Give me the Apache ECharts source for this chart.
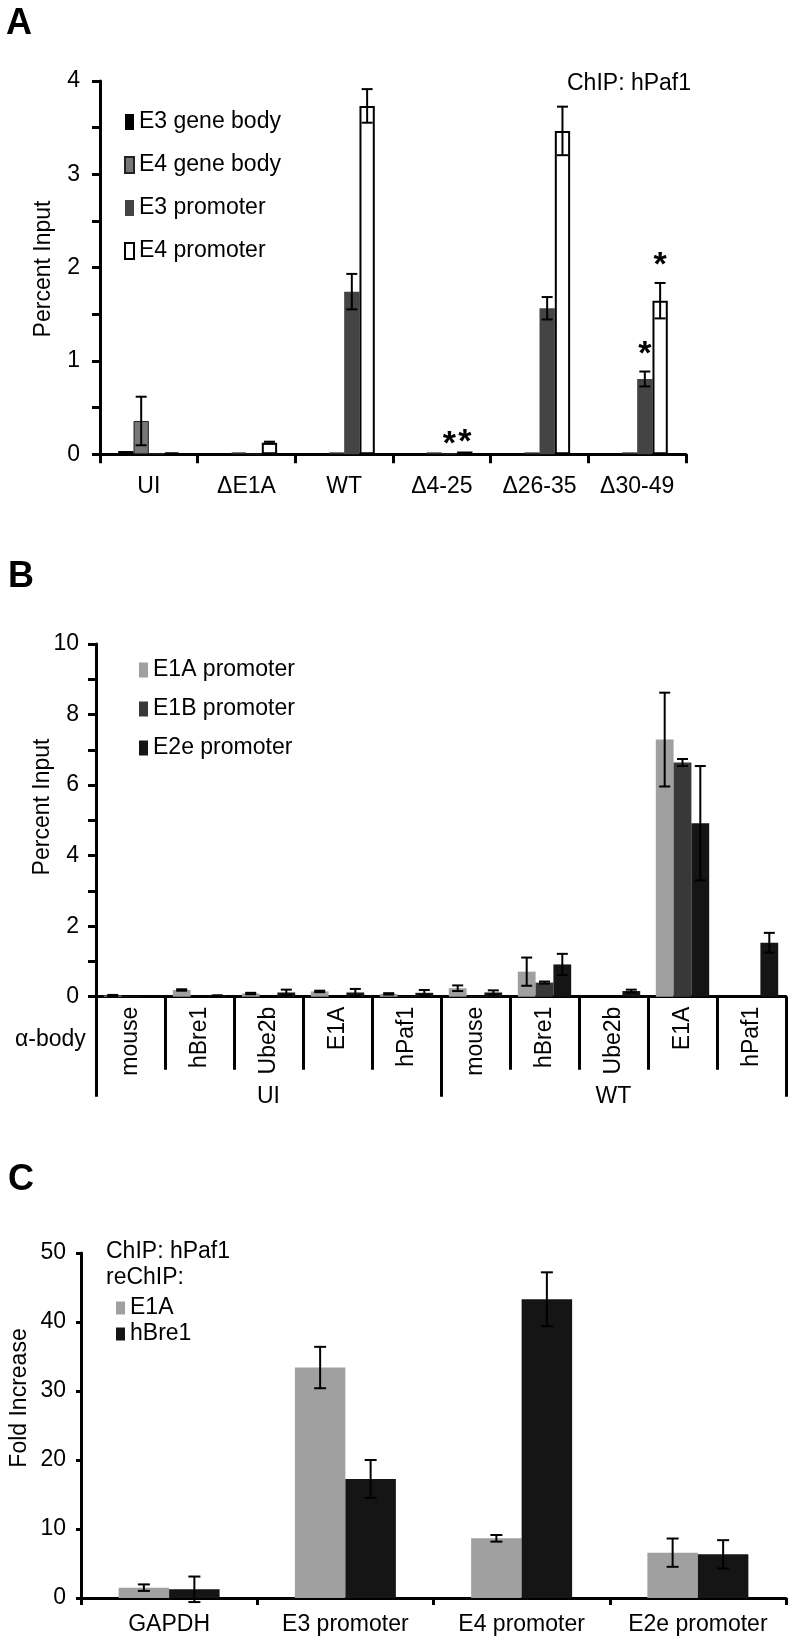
<!DOCTYPE html>
<html><head><meta charset="utf-8">
<script src="https://cdn.jsdelivr.net/npm/echarts@6/dist/echarts.min.js"></script>
<style>html,body{margin:0;padding:0;background:#fff}#c{width:794px;height:1644px}</style>
</head><body><div id="c"></div>
<script>
// ---------- Panel A data ----------
const aCategories = ['UI', 'ΔE1A', 'WT', 'Δ4-25', 'Δ26-35', 'Δ30-49'];
const aSeriesNames = ['E3 gene body', 'E4 gene body', 'E3 promoter', 'E4 promoter'];
const aE3GeneBody = [0.035, 0.01, 0.01, 0.01, 0.01, 0.01];
const aE3GeneBodyErr = [0, 0, 0, 0, 0, 0];
const aE4GeneBody = [0.357, 0.02, 0.02, 0.02, 0.02, 0.02];
const aE4GeneBodyErr = [0.26, 0, 0, 0, 0, 0];
const aE3Promoter = [0.008, 0.006, 1.743, 0.008, 1.565, 0.807];
const aE3PromoterErr = [0, 0, 0.19, 0, 0.12, 0.08];
const aE4Promoter = [0.02, 0.125, 3.733, 0.03, 3.465, 1.646];
const aE4PromoterErr = [0, 0.01, 0.18, 0, 0.26, 0.19];
const aYTicks = [0, 1, 2, 3, 4];
const aSignificance = [[3, 2], [3, 3], [5, 2], [5, 3]]; // [category, series]

// ---------- Panel B data ----------
const bCategories = ['mouse', 'hBre1', 'Ube2b', 'E1A', 'hPaf1', 'mouse', 'hBre1', 'Ube2b', 'E1A', 'hPaf1'];
const bGroups = ['UI', 'WT'];
const bSeriesNames = ['E1A promoter', 'E1B promoter', 'E2e promoter'];
const bE1A = [0.03, 0.19, 0.09, 0.15, 0.08, 0.24, 0.71, 0, 7.29, 0];
const bE1AErr = [0.02, 0.02, 0.02, 0.02, 0.02, 0.08, 0.4, 0, 1.33, 0];
const bE1B = [0.01, 0, 0, 0, 0.01, 0.01, 0.40, 0, 6.64, 0];
const bE1BErr = [0, 0, 0, 0, 0, 0, 0.03, 0, 0.1, 0];
const bE2e = [0, 0.03, 0.12, 0.12, 0.11, 0.12, 0.915, 0.16, 4.92, 1.53];
const bE2eErr = [0, 0.01, 0.08, 0.1, 0.08, 0.06, 0.3, 0.04, 1.62, 0.28];
const bYTicks = [0, 2, 4, 6, 8, 10];

// ---------- Panel C data ----------
const cCategories = ['GAPDH', 'E3 promoter', 'E4 promoter', 'E2e promoter'];
const cSeriesNames = ['E1A', 'hBre1'];
const cE1A = [1.5, 33.4, 8.65, 6.57];
const cE1AErr = [0.47, 3.0, 0.48, 2.05];
const cHBre1 = [1.26, 17.25, 43.3, 6.33];
const cHBre1Err = [1.85, 2.75, 3.9, 2.05];
const cYTicks = [0, 10, 20, 30, 40, 50];

// ---------- helpers ----------
const FONT = "'Liberation Sans', Arial, Helvetica, sans-serif";
const BLACK = '#000';

function errorSeries(xi, yi, vals, errs, gapFrac, cap) {
  const n = vals.length, data = [];
  vals.forEach((arr, s) => arr.forEach((v, c) => {
    if (errs[s][c] > 0) data.push([c, v, errs[s][c], s]);
  }));
  return {
    type: 'custom', xAxisIndex: xi, yAxisIndex: yi, z: 10, silent: true, clip: false,
    data: data, encode: { x: 0, y: 1 },
    renderItem: function (params, api) {
      const c = api.value(0), v = api.value(1), e = api.value(2), s = api.value(3);
      const band = api.size([1, 0])[0];
      const gw = band * (1 - gapFrac), bw = gw / n;
      const x = api.coord([c, v])[0] - gw / 2 + (s + 0.5) * bw;
      const yh = api.coord([c, v + e])[1], yl = api.coord([c, v - e])[1];
      const st = { stroke: BLACK, lineWidth: 2 };
      return { type: 'group', children: [
        { type: 'line', shape: { x1: x, y1: yh, x2: x, y2: yl }, style: st },
        { type: 'line', shape: { x1: x - cap / 2, y1: yh, x2: x + cap / 2, y2: yh }, style: st },
        { type: 'line', shape: { x1: x - cap / 2, y1: yl, x2: x + cap / 2, y2: yl }, style: st }
      ] };
    }
  };
}

function sigSeries(xi, yi, vals, errs, sig, gapFrac) {
  const n = vals.length;
  const data = sig.map(([c, s]) => [c, vals[s][c] + errs[s][c], s, errs[s][c] > 0 ? 1 : 0]);
  return {
    type: 'custom', xAxisIndex: xi, yAxisIndex: yi, z: 11, silent: true, clip: false,
    data: data, encode: { x: 0, y: 1 },
    renderItem: function (params, api) {
      const c = api.value(0), top = api.value(1), s = api.value(2), hasErr = api.value(3);
      const band = api.size([1, 0])[0];
      const gw = band * (1 - gapFrac), bw = gw / n;
      const p = api.coord([c, top]);
      const x = p[0] - gw / 2 + (s + 0.5) * bw;
      const y = p[1] - (hasErr ? 23 : 15) + 6;
      return { type: 'text', x: x, y: y, style: { text: '*', fill: BLACK, font: 'bold 34px ' + FONT,
        textAlign: 'center', textVerticalAlign: 'middle', align: 'center', verticalAlign: 'middle' } };
    }
  };
}

function catAxis(gi, data, tickLen, labelOpt, extra) {
  return Object.assign({
    gridIndex: gi, type: 'category', data: data,
    axisLine: { show: true, onZero: false, lineStyle: { color: BLACK, width: 3 } },
    axisTick: { show: true, interval: 0, length: tickLen, lineStyle: { color: BLACK, width: 3 } },
    axisLabel: Object.assign({ interval: 0, color: BLACK, fontSize: 23, fontFamily: FONT }, labelOpt),
    splitLine: { show: false }
  }, extra || {});
}

function valAxis(gi, max, interval, ticks, tickLen, margin) {
  return {
    gridIndex: gi, type: 'value', min: 0, max: max, interval: interval,
    axisLine: { show: true, lineStyle: { color: BLACK, width: 3 } },
    axisTick: { show: true, length: tickLen, lineStyle: { color: BLACK, width: 3 } },
    axisLabel: { color: BLACK, fontSize: 23, fontFamily: FONT, margin: margin,
      formatter: v => ticks.indexOf(v) >= 0 ? String(v) : '' },
    splitLine: { show: false }
  };
}

function bar(name, xi, yi, data, color, gap, extraStyle) {
  return {
    name: name, type: 'bar', xAxisIndex: xi, yAxisIndex: yi, data: data,
    barGap: '0%', barCategoryGap: gap, silent: true,
    itemStyle: Object.assign({ color: color }, extraStyle || {})
  };
}

function text(x, y, str, size, weight, rot) {
  return { type: 'text', x: x, y: y, rotation: rot || 0,
    style: { text: str, fill: BLACK, font: (weight || 'normal') + ' ' + size + 'px ' + FONT,
      textAlign: rot ? 'center' : 'left', textVerticalAlign: 'middle',
      align: rot ? 'center' : 'left', verticalAlign: 'middle' } };
}

const A_GAP = 0.373, B_GAP = 0.226, C_GAP = 0.427;
const pct = f => (f * 100).toFixed(1) + '%';

const legendBase = {
  orient: 'vertical', padding: 0, icon: 'rect', itemWidth: 9, selectedMode: false,
  textStyle: { color: BLACK, fontSize: 23, lineHeight: 24, fontFamily: FONT }
};

const option = {
  animation: false,
  backgroundColor: '#fff',
  textStyle: { fontFamily: FONT },
  grid: [
    { left: 100, top: 81, width: 586, height: 373.3, containLabel: false, outerBoundsMode: 'none' },
    { left: 96, top: 644, width: 690, height: 352.7, containLabel: false, outerBoundsMode: 'none' },
    { left: 81, top: 1253, width: 705, height: 345, containLabel: false, outerBoundsMode: 'none' }
  ],
  xAxis: [
    catAxis(0, aCategories, 9, { margin: 21 }),
    catAxis(1, bCategories, 73, { rotate: 90, margin: 10 }),
    catAxis(1, bGroups, 100, { margin: 88 }, { position: 'bottom', axisLine: { show: false } }),
    catAxis(2, cCategories, 7, { margin: 15 })
  ],
  yAxis: [
    valAxis(0, 4, 0.5, aYTicks, 8, 20),
    valAxis(1, 10, 1, bYTicks, 8, 17),
    valAxis(2, 50, 10, cYTicks, 5, 15)
  ],
  legend: [
    Object.assign({}, legendBase, { data: aSeriesNames, left: 124, top: 110, itemHeight: 16, itemGap: 19 }),
    Object.assign({}, legendBase, { data: bSeriesNames, left: 139, top: 658, itemHeight: 15, itemGap: 15 }),
    Object.assign({}, legendBase, { data: cSeriesNames, left: 116, top: 1296, itemHeight: 13, itemGap: 2 })
  ],
  graphic: [
    text(6, 24, 'A', 36, 'bold'),
    text(8, 577, 'B', 36, 'bold'),
    text(8, 1180, 'C', 36, 'bold'),
    text(567, 84, 'ChIP: hPaf1', 23),
    text(44, 269, 'Percent Input', 23, 'normal', Math.PI / 2),
    text(43, 807, 'Percent Input', 23, 'normal', Math.PI / 2),
    text(15, 1040, 'α-body', 23),
    text(20, 1398, 'Fold Increase', 23, 'normal', Math.PI / 2),
    text(106, 1252, 'ChIP: hPaf1', 23),
    text(106, 1278, 'reChIP:', 23)
  ],
  series: [
    bar(aSeriesNames[0], 0, 0, aE3GeneBody, '#000000', pct(A_GAP)),
    bar(aSeriesNames[1], 0, 0, aE4GeneBody, '#777777', pct(A_GAP), { borderColor: '#222', borderWidth: 1 }),
    bar(aSeriesNames[2], 0, 0, aE3Promoter, '#444444', pct(A_GAP)),
    bar(aSeriesNames[3], 0, 0, aE4Promoter, '#ffffff', pct(A_GAP), { borderColor: '#000', borderWidth: 2 }),
    errorSeries(0, 0, [aE3GeneBody, aE4GeneBody, aE3Promoter, aE4Promoter],
      [aE3GeneBodyErr, aE4GeneBodyErr, aE3PromoterErr, aE4PromoterErr], A_GAP, 11),
    sigSeries(0, 0, [aE3GeneBody, aE4GeneBody, aE3Promoter, aE4Promoter],
      [aE3GeneBodyErr, aE4GeneBodyErr, aE3PromoterErr, aE4PromoterErr], aSignificance, A_GAP),

    bar(bSeriesNames[0], 1, 1, bE1A, '#a0a0a0', pct(B_GAP)),
    bar(bSeriesNames[1], 1, 1, bE1B, '#383838', pct(B_GAP)),
    bar(bSeriesNames[2], 1, 1, bE2e, '#151515', pct(B_GAP)),
    errorSeries(1, 1, [bE1A, bE1B, bE2e], [bE1AErr, bE1BErr, bE2eErr], B_GAP, 11),

    bar(cSeriesNames[0], 3, 2, cE1A, '#a0a0a0', pct(C_GAP)),
    bar(cSeriesNames[1], 3, 2, cHBre1, '#151515', pct(C_GAP)),
    errorSeries(3, 2, [cE1A, cHBre1], [cE1AErr, cHBre1Err], C_GAP, 12)
  ]
};

const chart = echarts.init(document.getElementById('c'), null, { renderer: 'canvas', width: 794, height: 1644 });
chart.setOption(option);
</script>
</body></html>
